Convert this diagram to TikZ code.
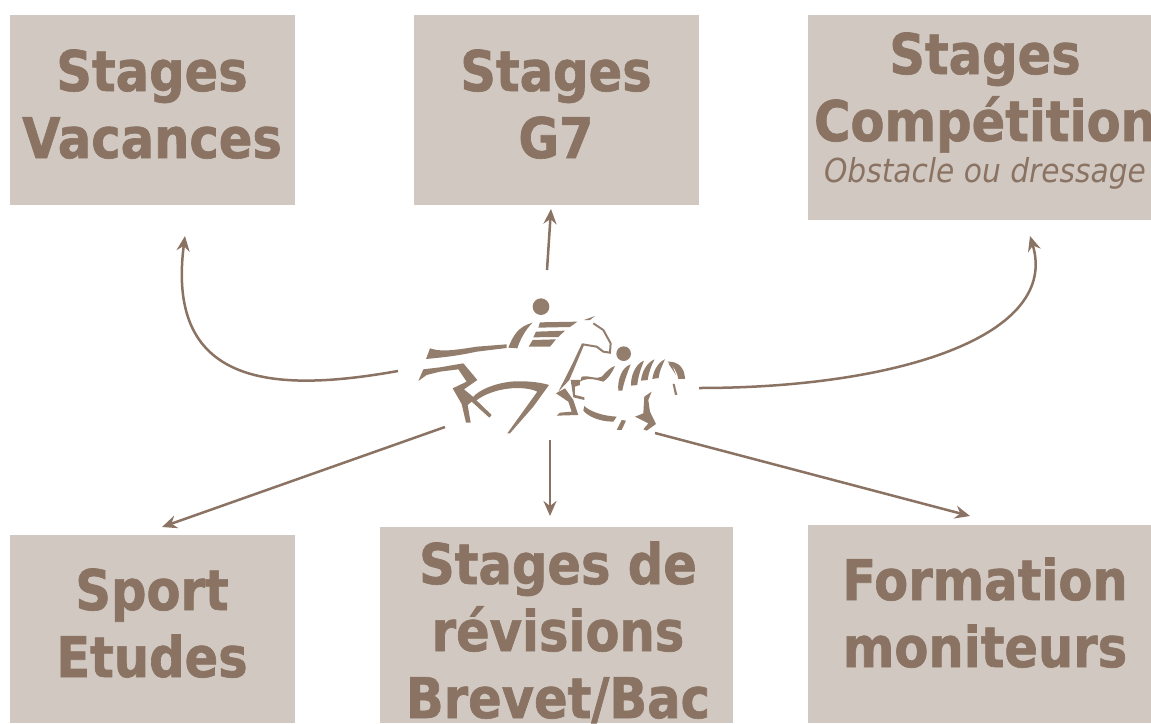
\documentclass[tikz,border=0pt]{standalone}
\usepackage{fontspec}
\setmainfont{DejaVu Sans}[FakeStretch=0.9,BoldFeatures={FakeStretch=0.885,FakeBold=1.2}]
\usetikzlibrary{arrows.meta}
\definecolor{ink}{HTML}{8A7363}
\definecolor{logoink}{HTML}{937E6E}
\definecolor{boxfill}{HTML}{D1C9C1}
\tikzset{
  panel/.style={fill=boxfill,draw=none,inner sep=0pt,anchor=north west},
  title/.style={text=ink,font=\fontsize{56}{67}\selectfont\bfseries,align=center,inner sep=0pt},
  subtitle/.style={text=ink,font=\fontsize{33}{38}\selectfont\itshape,inner sep=0pt},
  link/.style={draw=ink,line width=2.5pt,-{Stealth[length=15pt,width=13pt,inset=5pt]}},
  logo/.style={fill=logoink,draw=none},
}
\begin{document}
\begin{tikzpicture}[x=1pt,y=-1pt]
\useasboundingbox (0,0) rectangle (1151,723);
\fill[white] (0,0) rectangle (1151,723);
\clip (0,0) rectangle (1151,723);
% panels
\node[panel,minimum width=285pt,minimum height=190pt] (a) at (10,15) {};
\node[panel,minimum width=285pt,minimum height=190pt] (b) at (414,15) {};
\node[panel,minimum width=343pt,minimum height=205pt] (c) at (808,15) {};
\node[panel,minimum width=285pt,minimum height=188pt] (d) at (10,535) {};
\node[panel,minimum width=353pt,minimum height=196pt] (e) at (380,527) {};
\node[panel,minimum width=343pt,minimum height=198pt] (f) at (808,525) {};
% labels
\node[title,anchor=base] (at) at (152,158) {Stages\\Vacances};
\node[title,anchor=base] (bt) at (556,158) {Stages\\G7};
\node[title,anchor=base] (ct) at (985,141) {Stages\\Compétition};
\node[subtitle,anchor=base] (cs) at (985,182) {Obstacle ou dressage};
\node[title,anchor=base] (dt) at (152,677) {Sport\\Etudes};
\node[title,anchor=base] (et) at (558,718) {Stages de\\révisions\\Brevet/Bac};
\node[title,anchor=base] (ft) at (985,667) {Formation\\moniteurs};
% logo
\begin{scope}[shift={(400,280)},x=0.3333pt,y=-0.3333pt]
\fill[logo] (423,80) circle[radius=25];
\fill[logo] (671,221) circle[radius=22];
\fill[logo] (325,203) .. controls (340,165) and (355,140) .. (398,128) .. controls (375,150) and (360,180) .. (352,205) -- cycle;
\fill[logo] (420,127) -- (532,125) -- (510,141) -- (415,143) -- cycle;
\fill[logo] (408,155) -- (495,152) -- (475,171) -- (400,172) -- cycle;
\fill[logo] (398,180) -- (468,178) -- (450,200) -- (386,200) -- cycle;
\fill[logo] (90,205) .. controls (120,215) and (150,213) .. (230,200) -- (320,193) -- (320,204) -- (230,215) .. controls (170,228) and (130,232) .. (78,237) -- cycle;
\fill[logo] (55,303) -- (70,268) -- (120,262) -- (190,250) -- (232,300) -- (192,328) -- (215,347) -- (275,405) -- (268,413) -- (215,365) -- (203,375) -- (212,428) -- (198,428) -- (185,372) -- (158,325) -- (200,305) -- (175,268) -- (120,275) -- (80,285) -- cycle;
\fill[logo] (215,355) .. controls (240,325) and (300,305) .. (350,304) .. controls (390,303) and (425,308) .. (447,315) -- (400,380) -- (330,460) -- (322,460) -- (412,335) .. controls (370,315) and (280,322) .. (228,362) -- cycle;
\draw[logoink,line width=2pt] (580,130) -- (610,150) -- (632,190) -- (630,218) -- (610,215) -- (590,200) -- (548,193);
\fill[logo] (546,190) -- (553,193) -- (527,255) -- (508,300) -- (475,335) -- (498,290) -- (518,250) -- cycle;
\fill[logo] (552,120) -- (585,108) -- (570,120) -- cycle;
\fill[logo] (468,340) -- (495,325) -- (520,360) -- (535,405) -- (470,407) -- (480,398) -- (515,395) -- (505,365) -- cycle;
\fill[logo] (512,300) -- (540,300) -- (540,315) -- (525,320) -- (525,345) -- (553,352) -- (553,360) -- (520,352) -- cycle;
\fill[logo] (545,290) .. controls (570,285) and (590,300) .. (605,290) .. controls (620,275) and (630,262) .. (645,258) .. controls (635,280) and (625,295) .. (610,305) .. controls (590,300) and (565,290) .. (540,305) -- cycle;
\fill[logo] (655,332) .. controls (652,300) and (665,262) .. (692,253) .. controls (682,280) and (672,305) .. (667,332) -- cycle;
\fill[logo] (693,317) .. controls (692,290) and (705,252) .. (732,242) .. controls (722,268) and (714,290) .. (712,315) -- cycle;
\fill[logo] (723,302) .. controls (725,280) and (738,248) .. (764,238) .. controls (752,260) and (746,280) .. (743,300) -- cycle;
\fill[logo] (757,297) .. controls (760,275) and (772,248) .. (795,238) .. controls (785,260) and (778,275) .. (776,294) -- cycle;
\fill[logo] (803,245) .. controls (835,243) and (855,265) .. (855,297) -- (835,297) .. controls (832,275) and (820,258) .. (803,245) -- cycle;
\fill[logo] (805,250) -- (815,252) -- (828,285) -- cycle;
\fill[logo] (553,378) .. controls (570,395) and (610,408) .. (650,410) -- (640,425) .. controls (600,425) and (565,410) .. (550,392) -- cycle;
\fill[logo] (650,450) -- (665,420) -- (678,422) -- (665,450) -- cycle;
\fill[logo] (733,350) -- (755,335) -- (745,360) -- (750,395) -- (768,432) -- (740,452) -- (730,448) -- (745,430) -- (705,410) -- (730,400) -- cycle;
\fill[logo] (818,312) -- (824,312) -- (832,345) -- (825,345) -- cycle;
\end{scope}
% connector ends around the logo
\coordinate (l1) at (398,371);
\coordinate (l2) at (547,270);
\coordinate (l3) at (699,388);
\coordinate (l4) at (445,427);
\coordinate (l5) at (550,440);
\coordinate (l6) at (655,433);
\coordinate (t1) at (185,236);
\coordinate (t2) at (551,209);
\coordinate (t3) at (1030,236);
\coordinate (t4) at (162,527);
\coordinate (t5) at (550,516);
\coordinate (t6) at (970,516);
\draw[link] (l1) .. controls (280,392) and (165,390) .. (t1);
\draw[link] (l2) -- (t2);
\draw[link] (l3) .. controls (900,388) and (1060,335) .. (t3);
\draw[link] (l4) -- (t4);
\draw[link] (l5) -- (t5);
\draw[link] (l6) -- (t6);
\end{tikzpicture}
\end{document}
